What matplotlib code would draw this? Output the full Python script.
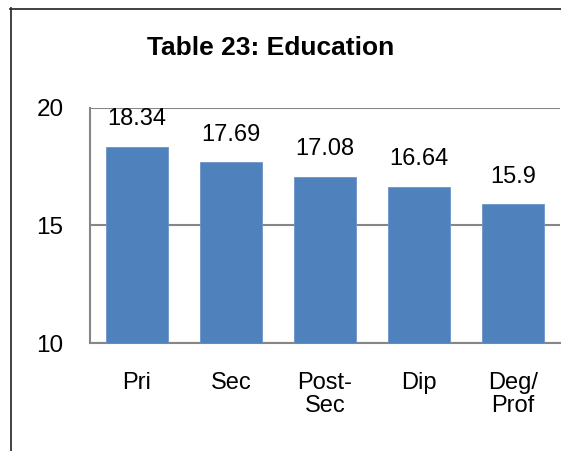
import matplotlib
matplotlib.use("Agg")
import matplotlib.pyplot as plt
from matplotlib.lines import Line2D

categories = ["Pri", "Sec", "Post-\nSec", "Dip", "Deg/\nProf"]
values = [18.34, 17.69, 17.08, 16.64, 15.9]
value_labels = ["18.34", "17.69", "17.08", "16.64", "15.9"]
yticks = [10, 15, 20]
title = "Table 23: Education"

W, H = 561, 451
fig = plt.figure(figsize=(W / 100, H / 100), dpi=100)
ax = fig.add_axes([90 / W, (H - 343) / H, (560 - 90) / W, (343 - 108) / H])

x = list(range(len(categories)))
ax.bar(x, values, width=0.66, color="#4F81BD", edgecolor="#6B95C8", linewidth=0.6, zorder=3)
ax.set_xlim(-0.5, len(categories) - 0.5)
ax.set_ylim(10, 20)
ax.set_yticks(yticks)
ax.set_yticklabels([str(t) for t in yticks], family=["Liberation Sans", "DejaVu Sans"], fontsize=17.5)
ax.set_xticks(x)
ax.set_xticklabels(categories, family=["Liberation Sans", "DejaVu Sans"], fontsize=17, linespacing=1.05, va="top")
ax.tick_params(axis="both", length=0)
ax.tick_params(axis="y", pad=19)
ax.tick_params(axis="x", pad=21)
ax.yaxis.grid(True, color="#868686", linewidth=1.5, zorder=0)
for s in ["top", "right"]:
    ax.spines[s].set_visible(False)
for s in ["left", "bottom"]:
    ax.spines[s].set_color("#868686")
    ax.spines[s].set_linewidth(1.5)

for xi, v, lab in zip(x, values, value_labels):
    ax.annotate(lab, (xi, v), xytext=(0, 12), textcoords="offset points",
                ha="center", va="bottom", fontsize=17,
                family=["Liberation Sans Narrow", "Liberation Sans", "DejaVu Sans"])

fig.text(271 / W, 1 - 55 / H, title, ha="center", va="baseline", fontsize=19, fontweight="bold",
         family=["Liberation Sans", "DejaVu Sans"])

fig.add_artist(Line2D([10.5 / W, 10.5 / W], [0, 1 - 8 / H], transform=fig.transFigure, color="#333333", linewidth=1.3))
fig.add_artist(Line2D([10 / W, 1], [1 - 8.5 / H, 1 - 8.5 / H], transform=fig.transFigure, color="#333333", linewidth=1.3))

fig.savefig("out.png", dpi=100)
